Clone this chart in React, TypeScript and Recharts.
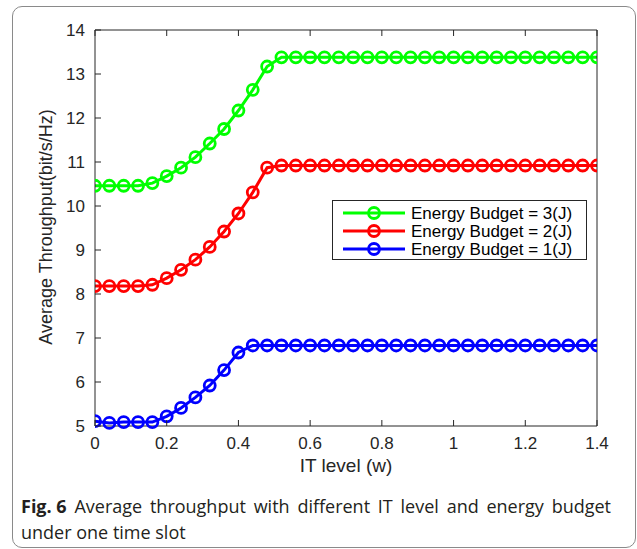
import React from 'react';
import { LineChart, Line, XAxis, YAxis, Legend } from 'recharts';

const itLevels = [
  0, 0.04, 0.08, 0.12, 0.16, 0.2, 0.24, 0.28, 0.32, 0.36, 0.4, 0.44,
  0.48, 0.52, 0.56, 0.6, 0.64, 0.68, 0.72, 0.76, 0.8, 0.84, 0.88, 0.92,
  0.96, 1.0, 1.04, 1.08, 1.12, 1.16, 1.2, 1.24, 1.28, 1.32, 1.36, 1.4,
];

const budget3 = [
  10.46, 10.46, 10.46, 10.46, 10.52, 10.68, 10.87, 11.11, 11.42, 11.75, 12.17, 12.64,
  13.17, 13.38, 13.38, 13.38, 13.38, 13.38, 13.38, 13.38, 13.38, 13.38, 13.38, 13.38,
  13.38, 13.38, 13.38, 13.38, 13.38, 13.38, 13.38, 13.38, 13.38, 13.38, 13.38, 13.38,
];

const budget2 = [
  8.18, 8.18, 8.18, 8.18, 8.21, 8.36, 8.55, 8.78, 9.07, 9.42, 9.83, 10.31,
  10.87, 10.92, 10.92, 10.92, 10.92, 10.92, 10.92, 10.92, 10.92, 10.92, 10.92, 10.92,
  10.92, 10.92, 10.92, 10.92, 10.92, 10.92, 10.92, 10.92, 10.92, 10.92, 10.92, 10.92,
];

const budget1 = [
  5.11, 5.07, 5.09, 5.09, 5.09, 5.22, 5.41, 5.65, 5.92, 6.27, 6.67, 6.83,
  6.83, 6.83, 6.83, 6.83, 6.83, 6.83, 6.83, 6.83, 6.83, 6.83, 6.83, 6.83,
  6.83, 6.83, 6.83, 6.83, 6.83, 6.83, 6.83, 6.83, 6.83, 6.83, 6.83, 6.83,
];

const xTicks = [0, 0.2, 0.4, 0.6, 0.8, 1, 1.2, 1.4];
const yTicks = [5, 6, 7, 8, 9, 10, 11, 12, 13, 14];

const series = [
  { key: 'b3', name: 'Energy Budget = 3(J)', color: '#00ff00' },
  { key: 'b2', name: 'Energy Budget = 2(J)', color: '#ff0000' },
  { key: 'b1', name: 'Energy Budget = 1(J)', color: '#0000ff' },
];

const data = itLevels.map((x, i) => ({ x, b3: budget3[i], b2: budget2[i], b1: budget1[i] }));

const AXIS = '#262626';
const FONT = '"Liberation Sans", Arial, sans-serif';
const TICK_LEN = 6;

// matlab style: tick marks point into the plot box
const BottomTick = ({ x, y, payload }: any) => (
  <g>
    <line x1={x} x2={x} y1={y} y2={y - TICK_LEN} stroke={AXIS} />
    <text x={x} y={y + 23} textAnchor="middle" fontFamily={FONT} fontSize={17} fill={AXIS}>{String(payload.value)}</text>
  </g>
);
const LeftTick = ({ x, y, payload }: any) => (
  <g>
    <line x1={x} x2={x + TICK_LEN} y1={y} y2={y} stroke={AXIS} />
    <text x={x - 10} y={y} dy="0.35em" textAnchor="end" fontFamily={FONT} fontSize={17} fill={AXIS}>{payload.value}</text>
  </g>
);
const TopTick = ({ x, y }: any) => <line x1={x} x2={x} y1={y} y2={y + TICK_LEN} stroke={AXIS} />;
const RightTick = ({ x, y }: any) => <line x1={x} x2={x - TICK_LEN} y1={y} y2={y} stroke={AXIS} />;

const LegendBox = () => (
  <div style={{ width: 255, height: 60, border: `1px solid ${AXIS}`, background: '#fff', boxSizing: 'border-box' }}>
    <svg width={253} height={58}>
      {series.map((s, i) => {
        const y = 12 + i * 18;
        return (
          <g key={s.key}>
            <line x1={10} x2={72} y1={y} y2={y} stroke={s.color} strokeWidth={3} />
            <circle cx={41} cy={y} r={5.5} fill="none" stroke={s.color} strokeWidth={2.8} />
            <text x={78} y={y} dominantBaseline="central" fontFamily={FONT} fontSize={17} fill="#000">{s.name}</text>
          </g>
        );
      })}
    </svg>
  </div>
);

const captionStyle: React.CSSProperties = {
  position: 'absolute', left: 21, width: 590, fontFamily: '"Open Sans", sans-serif', fontSize: 18,
  lineHeight: '26px', color: '#231f20', whiteSpace: 'nowrap',
};

export default function App() {
  return (
    <div style={{ position: 'fixed', top: 0, left: 0, width: 637, height: 549, background: '#fff', overflow: 'hidden' }}>
      <div style={{
        position: 'absolute', left: 12, top: 6, width: 624, height: 542,
        border: '1px solid #8a8a8a', borderRadius: 10, boxSizing: 'border-box',
      }} />
      <div style={{ position: 'absolute', left: 0, top: 0 }}>
        <LineChart width={637} height={482} data={data} margin={{ top: 29, right: 39, bottom: 0, left: 0 }}>
          <XAxis
            dataKey="x" type="number" domain={[0, 1.4]} ticks={xTicks} allowDataOverflow
            height={56} stroke={AXIS} tickLine={false} tickSize={0} tickMargin={0} tick={BottomTick}
            label={() => (
              <text x={346} y={472} textAnchor="middle" fontFamily={FONT} fontSize={19} fill={AXIS}>IT level (w)</text>
            )}
          />
          <XAxis
            xAxisId="top" orientation="top" dataKey="x" type="number" domain={[0, 1.4]} ticks={xTicks}
            height={1} stroke={AXIS} tickLine={false} tickSize={0} tickMargin={0} tick={TopTick}
          />
          <YAxis
            type="number" domain={[5, 14]} ticks={yTicks} width={95} stroke={AXIS}
            tickLine={false} tickSize={0} tickMargin={0} tick={LeftTick}
            label={() => (
              <text x={46} y={227} transform="rotate(-90 46 227)" textAnchor="middle" dominantBaseline="central"
                fontFamily={FONT} fontSize={18} fill={AXIS}>Average Throughput(bit/s/Hz)</text>
            )}
          />
          <YAxis
            yAxisId="right" orientation="right" type="number" domain={[5, 14]} ticks={yTicks} width={1}
            stroke={AXIS} tickLine={false} tickSize={0} tickMargin={0} tick={RightTick}
          />
          {series.map((s) => (
            <Line
              key={s.key} dataKey={s.key} name={s.name} stroke={s.color} strokeWidth={3}
              dot={{ r: 5.5, strokeWidth: 2.8, fill: 'none', stroke: s.color }}
              activeDot={false} isAnimationActive={false}
            />
          ))}
          <Legend
            layout="vertical" align="center" verticalAlign="middle"
            content={() => <LegendBox />}
            wrapperStyle={{ left: 332, top: 200, width: 255, height: 60 }}
          />
        </LineChart>
      </div>
      <div style={{ ...captionStyle, top: 493, display: 'flex', justifyContent: 'space-between' }}>
        <b>Fig. 6</b>
        {'Average throughput with different IT level and energy budget'.split(' ').map((w, i) => (
          <span key={i}>{w}</span>
        ))}
      </div>
      <div style={{ ...captionStyle, top: 519 }}>under one time slot</div>
    </div>
  );
}
